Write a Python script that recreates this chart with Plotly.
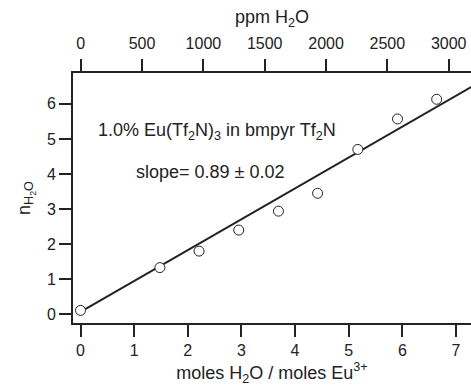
import plotly.graph_objects as go

# Data
ratio = [0.0, 1.48, 2.21, 2.95, 3.69, 4.42, 5.17, 5.91, 6.64]
n_h2o = [0.11, 1.33, 1.80, 2.40, 2.94, 3.45, 4.70, 5.57, 6.13]
fit_slope = 0.88
fit_intercept = 0.07
fit_x = [0.0, 7.6]
ppm_ticks = [0, 500, 1000, 1500, 2000, 2500, 3000]
ratio_ticks = [0, 1, 2, 3, 4, 5, 6, 7]
n_ticks = [0, 1, 2, 3, 4, 5, 6]

C = "#222222"
FONT = "Liberation Sans, Arial, sans-serif"
TICK_FS = 16
TXT_FS = 18

fig = go.Figure()
fig.add_trace(go.Scatter(
    x=fit_x, y=[fit_intercept + fit_slope * v for v in fit_x],
    mode="lines", line=dict(color=C, width=2), showlegend=False, cliponaxis=True))
fig.add_trace(go.Scatter(
    x=ratio, y=n_h2o, mode="markers",
    marker=dict(symbol="circle", size=10, color="white", line=dict(color=C, width=1)),
    showlegend=False))
# invisible trace on top axis
fig.add_trace(go.Scatter(x=[0], y=[0], xaxis="x2", mode="markers",
                         marker=dict(opacity=0), showlegend=False, hoverinfo="skip"))

axis_common = dict(showgrid=False, zeroline=False, showline=True, linecolor=C, linewidth=2,
                   ticks="outside", ticklen=12, tickwidth=2, tickcolor=C, automargin=False,
                   tickfont=dict(family=FONT, size=TICK_FS, color=C))

fig.update_layout(
    width=471, height=389,
    margin=dict(l=73, r=0, t=73, b=66),
    paper_bgcolor="white", plot_bgcolor="white",
    font=dict(family=FONT, size=TXT_FS, color=C),
    xaxis=dict(range=[-0.14, 7.28], tickvals=ratio_ticks, mirror=False,
               title=dict(text="moles H<sub>2</sub>O / moles Eu<sup>3+</sup>", standoff=8,
                          font=dict(family=FONT, size=TXT_FS, color=C)),
               **axis_common),
    xaxis2=dict(range=[-63, 3182], tickvals=ppm_ticks, overlaying="x", side="top",
                ticklabelstandoff=4,
                title=dict(text="ppm H<sub>2</sub>O", standoff=6,
                           font=dict(family=FONT, size=TXT_FS, color=C)),
                **axis_common),
    yaxis=dict(range=[-0.25, 6.88], tickvals=n_ticks,
               title=dict(text="n<sub>H<sub>2</sub>O</sub>", standoff=12,
                          font=dict(family=FONT, size=TXT_FS, color=C)),
               **axis_common),
    annotations=[
        dict(x=0.28, y=5.22, xref="x", yref="y", xanchor="left", yanchor="middle",
             text="1.0% Eu(Tf<sub>2</sub>N)<sub>3</sub> in bmpyr Tf<sub>2</sub>N",
             showarrow=False, font=dict(family=FONT, size=TXT_FS, color=C)),
        dict(x=0.99, y=4.06, xref="x", yref="y", xanchor="left", yanchor="middle",
             text="slope= 0.89 ± 0.02",
             showarrow=False, font=dict(family=FONT, size=TXT_FS, color=C)),
    ],
)

fig.write_html("out.html", config={"displayModeBar": False},
               post_script="document.body.style.margin='0';document.body.style.overflow='hidden';")
